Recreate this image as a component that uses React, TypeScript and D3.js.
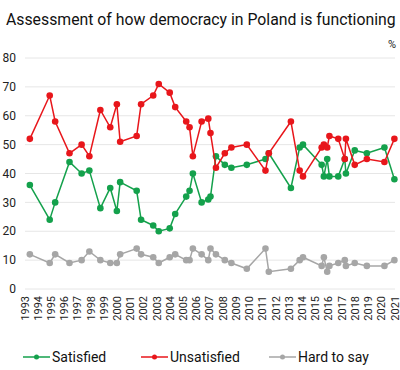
import * as d3 from 'd3';
import React from 'react';

const dates = [
  '1993-05', '1994-11', '1995-04', '1996-05', '1997-04', '1997-11', '1998-09',
  '1999-06', '1999-12', '2000-03', '2001-06', '2001-10', '2002-09', '2003-02',
  '2003-12', '2004-05', '2005-03', '2005-06', '2005-09', '2006-05', '2006-11',
  '2007-01', '2007-06', '2008-02', '2008-08', '2009-10', '2011-03', '2011-06',
  '2013-02', '2013-10', '2014-01', '2015-06', '2015-08', '2015-11', '2016-01',
  '2016-09', '2017-03', '2017-04', '2017-12', '2018-11', '2020-03', '2020-12',
];
const satisfied = [
  36, 24, 30, 44, 40, 41, 28, 35, 27, 37, 34, 24, 22, 20, 21, 26, 32, 34, 40, 30, 31,
  32, 46, 43, 42, 43, 45, 47, 35, 49, 50, 43, 39, 45, 39, 39, 45, 40, 48, 47, 49, 38,
];
const unsatisfied = [
  52, 67, 58, 47, 50, 46, 62, 56, 64, 51, 53, 64, 67, 71, 68, 63, 58, 56, 46, 58, 59,
  54, 42, 47, 49, 50, 41, 47, 58, 41, 39, 49, 50, 49, 53, 52, 45, 52, 43, 45, 44, 52,
];
const hardToSay = [
  12, 9, 12, 9, 10, 13, 10, 9, 9, 12, 14, 12, 11, 9, 11, 12, 10, 10, 14, 12, 10,
  14, 12, 10, 9, 7, 14, 6, 7, 10, 11, 8, 11, 6, 8, 9, 10, 8, 9, 8, 8, 10,
];
const yearTicks = d3.range(1993, 2022);
const valueTicks = [0, 10, 20, 30, 40, 50, 60, 70, 80];

const series = [
  { name: 'Satisfied', values: satisfied, color: '#14a14c' },
  { name: 'Unsatisfied', values: unsatisfied, color: '#e8161b' },
  { name: 'Hard to say', values: hardToSay, color: '#a6a6a6' },
];

const font = 'Roboto, sans-serif';

export default function App() {
  const parse = d3.timeParse('%Y-%m');
  // middle of the month
  const when = dates.map(d => d3.timeDay.offset(parse(d) as Date, 14));

  const x = d3
    .scaleTime()
    .domain([new Date(1993, 0, 1), new Date(2021, 0, 1)])
    .range([25, 395]);
  const y = d3.scaleLinear().domain([0, 80]).range([289, 58]);

  const line = d3
    .line<number>()
    .x((_, i) => x(when[i]))
    .y(v => y(v));

  const legendX = [23, 141, 269];

  return (
    <svg
      width={400}
      height={370}
      style={{ position: 'absolute', left: 0, top: 0, background: '#fff' }}
      fontFamily={font}
    >
      <text x={6} y={25} fontSize={15.8} fill="#111">
        Assessment of how democracy in Poland is functioning
      </text>
      <text x={396} y={48} fontSize={11} textAnchor="end" fill="#222">
        %
      </text>

      {/* grid + y labels */}
      {valueTicks.map(t => (
        <g key={t}>
          <line x1={25} x2={395} y1={y(t)} y2={y(t)} stroke="#e6e6e6" strokeWidth={1} />
          <text x={16} y={y(t)} dy="0.35em" fontSize={12} textAnchor="end" fill="#222">
            {t}
          </text>
        </g>
      ))}

      {/* x labels */}
      {yearTicks.map(yr => {
        const px = x(new Date(yr, 0, 1));
        return (
          <text
            key={yr}
            transform={`translate(${px + 3.5},${296}) rotate(-90)`}
            fontSize={11}
            textAnchor="end"
            fill="#222"
          >
            {yr}
          </text>
        );
      })}

      {/* series */}
      {series.map(s => (
        <g key={s.name}>
          <path d={line(s.values) ?? ''} fill="none" stroke={s.color} strokeWidth={1.5} />
          {s.values.map((v, i) => (
            <circle key={i} cx={x(when[i])} cy={y(v)} r={3.3} fill={s.color} />
          ))}
        </g>
      ))}

      {/* legend */}
      {series.map((s, i) => (
        <g key={s.name} transform={`translate(${legendX[i]},357)`}>
          <line x1={0} x2={27} y1={0} y2={0} stroke={s.color} strokeWidth={1.5} />
          <circle cx={13.5} cy={0} r={2.5} fill={s.color} />
          <text x={29} y={0} dy="0.35em" fontSize={14} fill="#111">
            {s.name}
          </text>
        </g>
      ))}
    </svg>
  );
}
